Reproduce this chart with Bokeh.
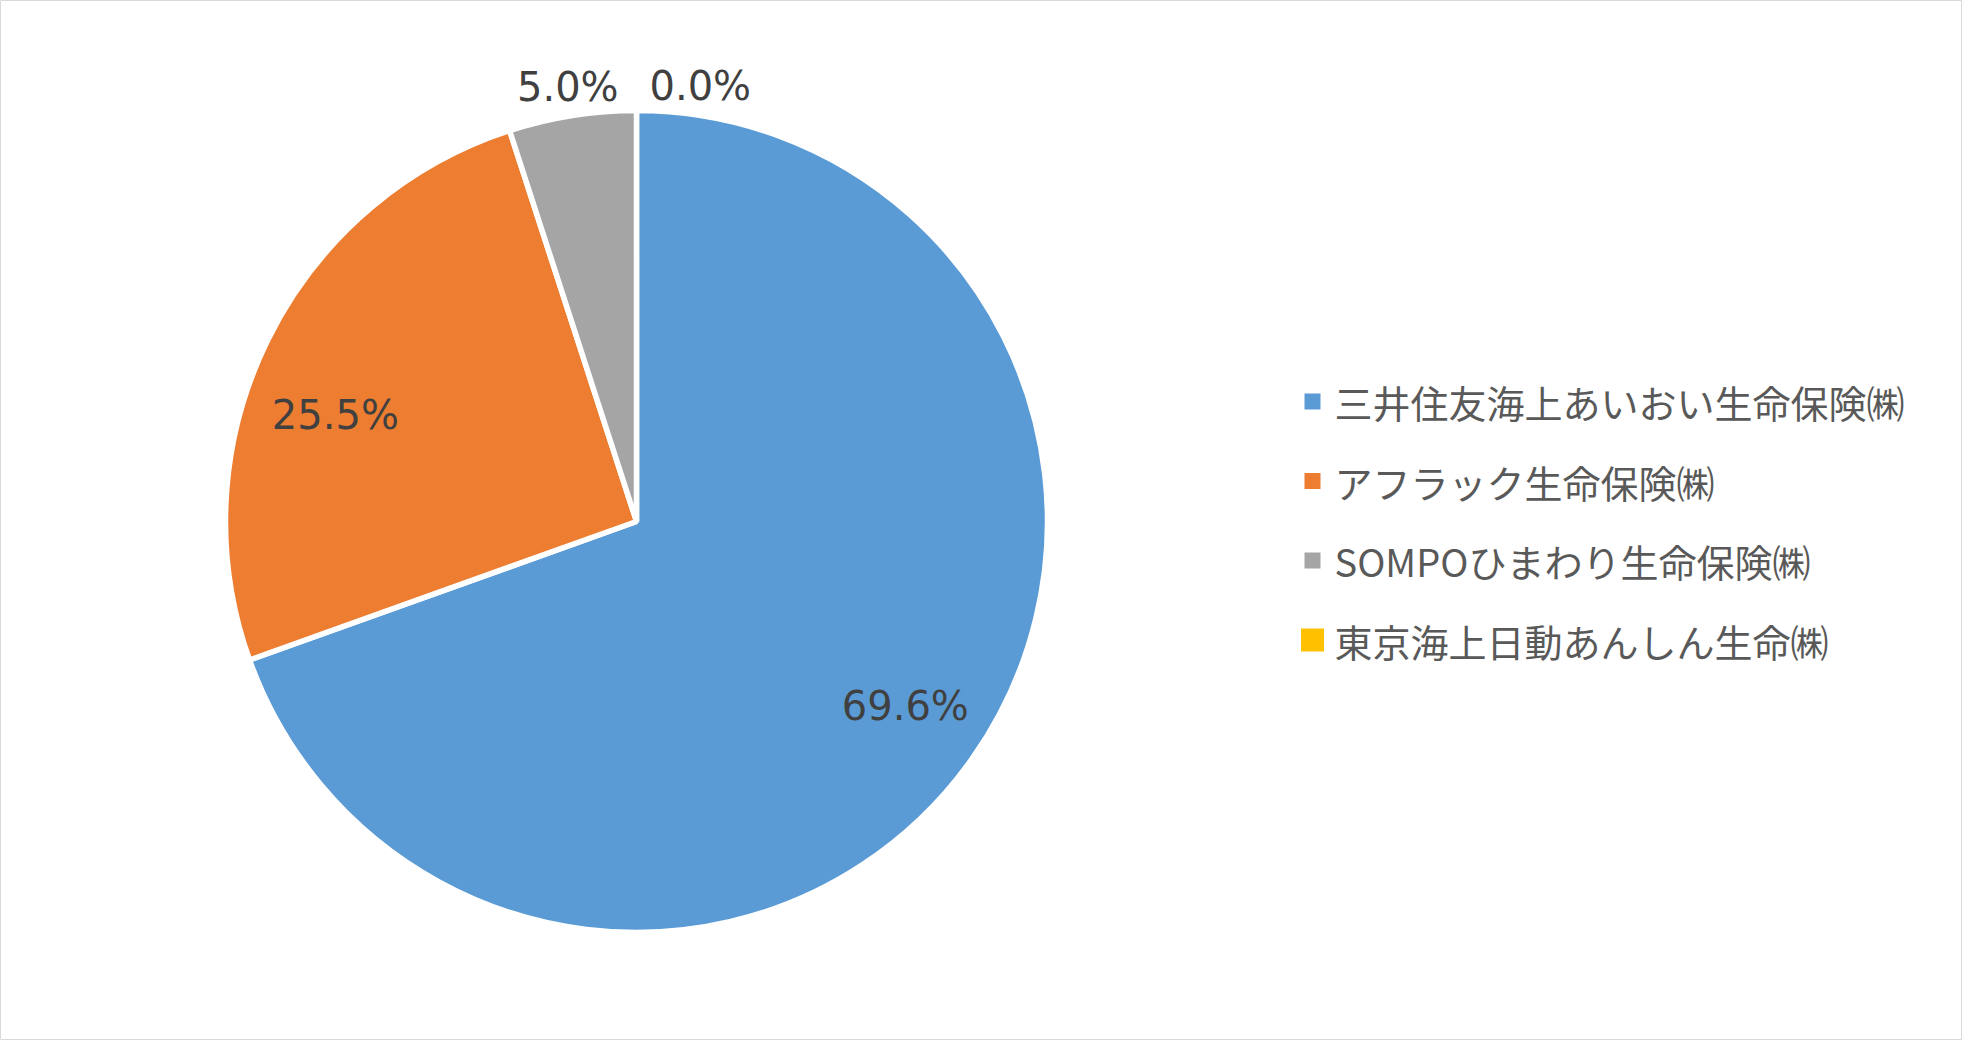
import numpy as np

from bokeh.core.properties import value
from bokeh.embed import file_html
from bokeh.models import ColumnDataSource, Range1d
from bokeh.plotting import figure
from bokeh.resources import INLINE

# data
companies = ["三井住友海上あいおい生命保険㈱", "アフラック生命保険㈱", "SOMPOひまわり生命保険㈱", "東京海上日動あんしん生命㈱"]
shares = [69.6, 25.5, 5.0, 0.0]
colors = ["#5B9BD5", "#ED7D31", "#A5A5A5", "#FFC000"]
pct_labels = ["69.6%", "25.5%", "5.0%", "0.0%"]

# layout (page pixels, y measured upward from the bottom of the window)
W, H = 1962, 1040
CX, CY, R = 644, 529, 411
label_rad = [0.80, 0.80, 1.07, 1.06]
label_dx = [0, -6, 0, 13]
label_dy = [5, -38, 0, 0]
label_align = ["center", "center", "center", "left"]
legend_x, legend_y0, legend_gap = 1320, 1058 - 409, 79.5
legend_box = [16, 16, 16, 23]

frac = np.array(shares) / sum(shares)
cum = np.concatenate([[0], np.cumsum(frac)])
start = np.pi / 2 - 2 * np.pi * cum[:-1]
end = np.pi / 2 - 2 * np.pi * cum[1:]
mid = (start + end) / 2

p = figure(width=W, height=H, output_backend="svg", toolbar_location=None,
           x_range=Range1d(8, 8 + W), y_range=Range1d(1050 - H, 1050),
           x_axis_type=None, y_axis_type=None, min_border=0,
           background_fill_color="white", border_fill_color="white")
p.grid.visible = False
p.outline_line_color = "#D9D9D9"
p.outline_line_width = 1

# zero slices are left out of the pie but kept in the legend
keep = [i for i, s in enumerate(shares) if s > 0]
wedges = ColumnDataSource(dict(
    start=[start[i] for i in keep], end=[end[i] for i in keep],
    color=[colors[i] for i in keep]))
p.wedge(x=CX, y=CY, radius=R, start_angle="start", end_angle="end",
        direction="clock", fill_color="color", line_color="white",
        line_width=5.5, source=wedges)

# data labels
for i in range(len(shares)):
    lx = CX + R * label_rad[i] * np.cos(mid[i]) + label_dx[i]
    ly = CY + R * label_rad[i] * np.sin(mid[i]) + label_dy[i]
    p.text(x=[lx], y=[ly], text=[pct_labels[i]], text_align=label_align[i],
           text_baseline="middle", text_font=value("DejaVu Sans"),
           text_font_size="40px", text_color="#404040")

# legend drawn by hand so the box sizes match
rows_y = [legend_y0 - i * legend_gap for i in range(len(companies))]
p.rect(x=[legend_x] * len(companies), y=rows_y, width=legend_box, height=legend_box,
       fill_color=colors, line_color=None)
p.text(x=[legend_x + 22] * len(companies), y=rows_y, text=companies,
       text_align="left", text_baseline="middle", text_font=value("Noto Sans CJK JP"),
       text_font_size="38px", text_color="#595959")

open("out.html", "w").write(file_html(p, INLINE))
